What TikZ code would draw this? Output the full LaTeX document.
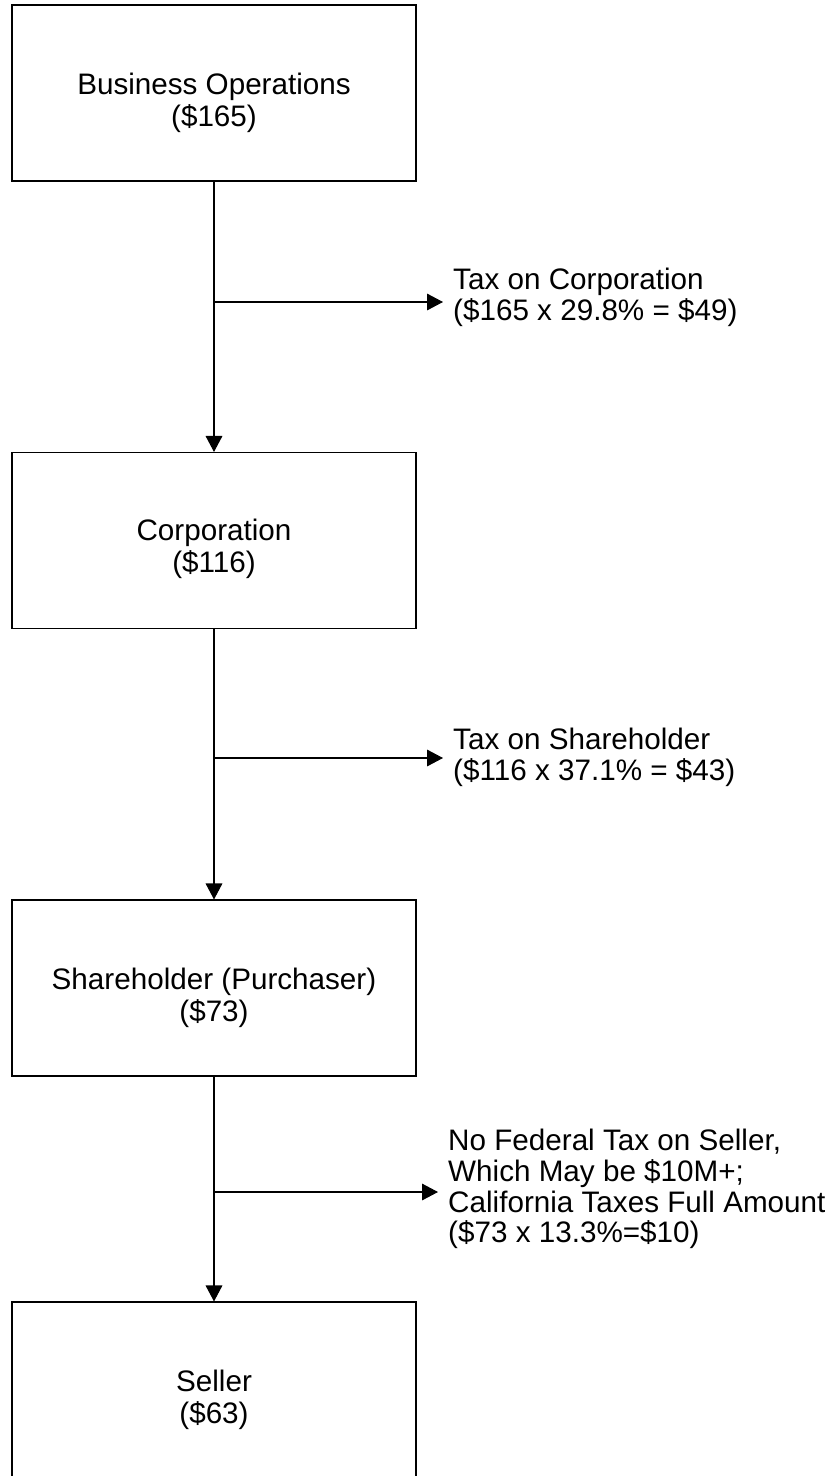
\documentclass[tikz,border=0pt]{standalone}
\usepackage{fontspec}
\setmainfont{Liberation Sans}
\usetikzlibrary{calc,positioning,arrows.meta}

\begin{document}
\begin{tikzpicture}[x=0.3mm,y=-0.3mm]
\tikzstyle{blk}=[draw, line width=0.9pt, minimum width=121.2mm, minimum height=52.8mm]
\tikzstyle{txt}=[align=center, inner sep=0pt, font=\fontsize{25.3}{27.3}\selectfont]
\tikzstyle{lbl}=[anchor=west, align=left, inner xsep=3mm, inner ysep=0pt, font=\fontsize{25.3}{26.3}\selectfont]
\tikzstyle{arr}=[line width=0.9pt, -{Triangle[length=4.8mm,width=5mm]}]
\useasboundingbox (0,0) rectangle (835,1476);
\clip (0,0) rectangle (835,1476);
% boxes
\node[blk] (ops) at (214,93) {};
\node[blk] (corp) at (214,540.5) {};
\node[blk] (share) at (214,988) {};
\node[blk] (sell) at (214,1390) {};
\node[txt] (opsT) at ([yshift=-3mm]ops.center) {Business Operations\\(\$165)};
\node[txt] (corpT) at ([yshift=-2.4mm]corp.center) {Corporation\\(\$116)};
\node[txt] (shareT) at ([yshift=-3mm]share.center) {Shareholder (Purchaser)\\(\$73)};
\node[txt] (sellT) at ([yshift=-3mm]sell.center) {Seller\\(\$63)};
% tax labels
\node[lbl] (tcorp) at (443,297) {Tax on Corporation\\(\$165 x 29.8\% = \$49)};
\node[lbl] (tshare) at (443,757) {Tax on Shareholder\\(\$116 x 37.1\% = \$43)};
\node[lbl] (tsell) at (438,1189) {No Federal Tax on Seller,\\Which May be \$10M+;\\California Taxes Full Amount\\(\$73 x 13.3\%=\$10)};
\coordinate (b1) at (214,302);
\coordinate (b2) at (214,758);
\coordinate (b3) at (214,1192);
\foreach \i/\j in {ops/corp,corp/share,share/sell}{\draw[arr] (\i) -- (\j);}
\foreach \b/\t in {b1/tcorp,b2/tshare,b3/tsell}{\draw[arr] (\b) -- (\b -| \t.west);}
\end{tikzpicture}
\end{document}
